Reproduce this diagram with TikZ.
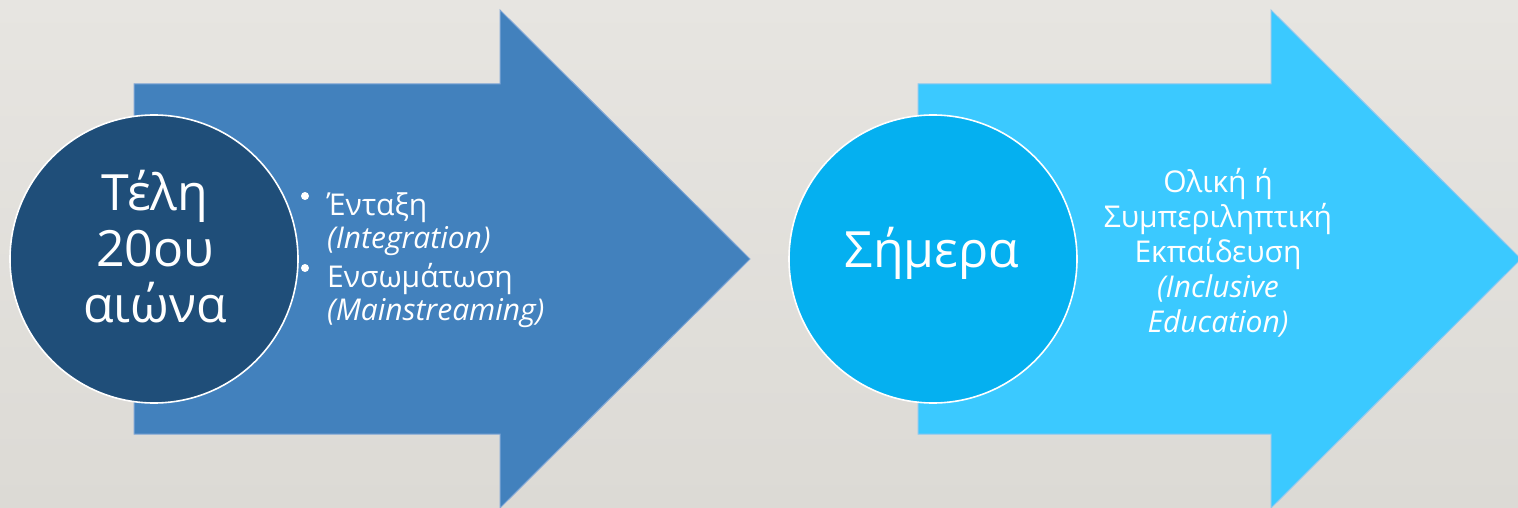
\documentclass[tikz,border=0pt]{standalone}
\usepackage{fontspec}
\setmainfont{Open Sans}
\definecolor{bgtop}{HTML}{E7E5E1}
\definecolor{bgbot}{HTML}{DCDAD5}
\definecolor{arrowA}{HTML}{4281BD}
\definecolor{arrowAedge}{HTML}{7FA6D6}
\definecolor{circA}{HTML}{1F4E79}
\definecolor{arrowB}{HTML}{3BC9FF}
\definecolor{arrowBedge}{HTML}{8CC8F0}
\definecolor{circB}{HTML}{05B0F0}
\tikzset{
  bigarrow/.style={line width=1pt, line join=miter},
  stagecirc/.style={circle, draw=white, line width=1.6pt, minimum size=288pt, inner sep=0pt},
  bigtext/.style={text=white, font=\fontsize{50}{56}\selectfont, align=center},
  smalltext/.style={text=white, font=\fontsize{30}{33}\selectfont},
  bulletdot/.style={circle, fill=white, inner sep=0pt, minimum size=8pt},
}
\begin{document}
\begin{tikzpicture}[x=1pt, y=-1pt]
\useasboundingbox (0,0) rectangle (1518,508);
\shade[top color=bgtop, bottom color=bgbot] (0,0) rectangle (1518,508);
% left arrow
\path[bigarrow, fill=arrowA, draw=arrowAedge]
  (134,84) -- (500,84) -- (500,10) -- (750,259) -- (500,508) -- (500,434) -- (134,434) -- cycle;
% right arrow
\path[bigarrow, fill=arrowB, draw=arrowBedge]
  (918,84) -- (1271,84) -- (1271,10) -- (1521,259) -- (1271,508) -- (1271,434) -- (918,434) -- cycle;
% circles
\node[stagecirc, fill=circA] (c1) at (154,259) {};
\node[stagecirc, fill=circB] (c2) at (933,259) {};
\node[bigtext, anchor=base] (t1) at (155,322) {Τέλη\\20ου\\αιώνα};
\node[bigtext, anchor=base] (t2) at (932,267) {Σήμερα};
% bullets
\node[bulletdot] (b1) at (305,196) {};
\node[smalltext, anchor=base west, inner sep=0pt, align=left] (l1) at (327,248) {Ένταξη\\\textit{(Integration)}};
\node[bulletdot] (b2) at (305,268) {};
\node[smalltext, anchor=base west, inner sep=0pt, align=left] (l2) at (327,320) {Ενσωμάτωση\\\textit{(Mainstreaming)}};
% right text
\node[smalltext, anchor=base, inner sep=0pt, align=center, font=\fontsize{30}{35}\selectfont] (r1) at (1218,332) {Ολική ή\\Συμπεριληπτική\\Εκπαίδευση\\\textit{(Inclusive}\\\textit{Education)}};
\end{tikzpicture}
\end{document}
